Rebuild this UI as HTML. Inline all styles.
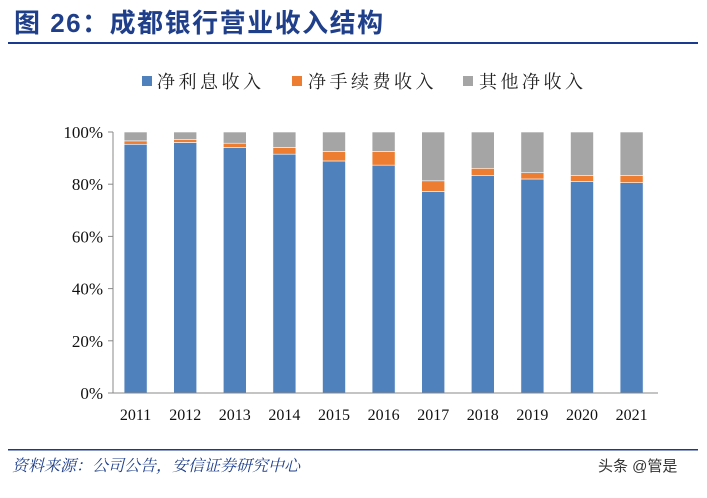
<!DOCTYPE html>
<html><head><meta charset="utf-8"><style>
body{margin:0;width:707px;height:493px;background:#fff;overflow:hidden;font-family:"Liberation Serif","Noto Serif CJK SC",serif;}
</style></head><body>
<svg width="707" height="493" xmlns="http://www.w3.org/2000/svg">
<text x="14" y="32" font-size="26" font-weight="bold" letter-spacing="1.5" fill="#1f3f8a" font-family="Liberation Sans,Noto Sans CJK SC,sans-serif">图 26：成都银行营业收入结构</text>
<rect x="8" y="42" width="690" height="2" fill="#1a3a8f"/>
<g font-size="18" letter-spacing="3.5" fill="#222" font-family="Liberation Serif,Noto Serif CJK SC,serif">
<rect x="142" y="76" width="10" height="10" fill="#4f81bd"/><text x="157" y="88">净利息收入</text>
<rect x="292" y="76" width="10" height="10" fill="#ed7d31"/><text x="308" y="88">净手续费收入</text>
<rect x="463" y="76" width="10" height="10" fill="#a5a5a5"/><text x="479" y="88">其他净收入</text>
</g>
<g id="plot"></g>
<rect x="8" y="449" width="690" height="1.5" fill="#1a3a8f"/>
<text x="12" y="471" font-size="16" font-style="italic" fill="#1f3f8a" font-family="Liberation Serif,Noto Serif CJK SC,serif">资料来源：公司公告，安信证券研究中心</text>
<text x="598" y="471" font-size="15" fill="#333" font-family="Liberation Sans,Noto Sans CJK SC,sans-serif">头条 @管是</text>
</svg>
<script>
const years=["2011","2012","2013","2014","2015","2016","2017","2018","2019","2020","2021"];
const interest=[95.3,96.0,94.1,91.5,88.9,87.3,77.2,83.4,82.0,81.0,80.6];
const fee=[1.3,1.2,1.6,2.6,3.6,5.2,4.1,2.7,2.4,2.4,2.8];
const yTicks=[0,20,40,60,80,100];
const NS="http://www.w3.org/2000/svg";
const g=document.getElementById('plot');
const y0=393,y1=132,xL=113;
const ys=v=>y0-(y0-y1)*v/100;
const xc=i=>135.6+49.6*i;
const bw=23;
function mk(t,a){const e=document.createElementNS(NS,t);for(const k in a)e.setAttribute(k,a[k]);g.appendChild(e);return e;}
years.forEach((yr,i)=>{
  const segs=[[0,interest[i],'#4f81bd','interest'],[interest[i],interest[i]+fee[i],'#ed7d31','fee'],[interest[i]+fee[i],100,'#a5a5a5','other']];
  segs.forEach(s=>{
    const r=mk('rect',{x:xc(i)-bw/2,y:ys(s[1]),width:bw,height:ys(s[0])-ys(s[1]),fill:s[2],stroke:'#fff','stroke-width':0.6});
    
    
  });
  const t=mk('text',{x:xc(i),y:420,'font-size':16,'text-anchor':'middle',fill:'#111'});
  t.textContent=yr;
  
  
});
const ax=mk('line',{x1:xL,y1:y1,x2:xL,y2:y0,stroke:'#888','stroke-width':1});


const bx=mk('line',{x1:xL,y1:y0,x2:658,y2:y0,stroke:'#888','stroke-width':1});


yTicks.forEach(v=>{
  const tk=mk('line',{x1:xL-5,y1:ys(v),x2:xL,y2:ys(v),stroke:'#888'});
  
  
  const t=mk('text',{x:xL-10,y:ys(v)+6,'font-size':17,'text-anchor':'end',fill:'#111'});
  t.textContent=v+'%';
  
  
});
</script>
</body></html>
